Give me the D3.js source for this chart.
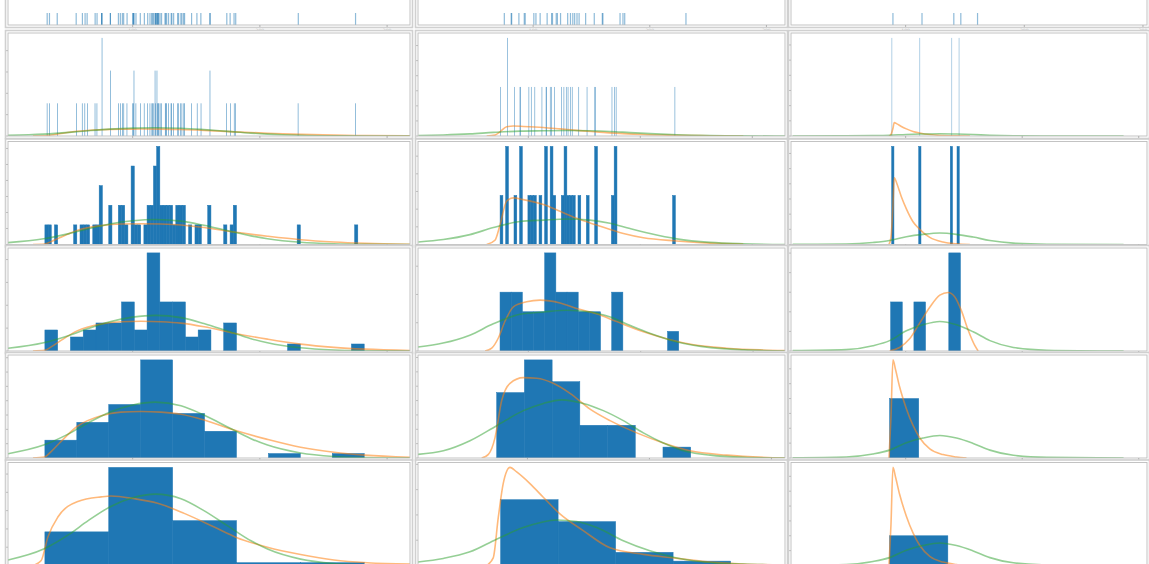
<!DOCTYPE html>
<html>
<head>
<meta charset="utf-8">
<script src="https://cdn.jsdelivr.net/npm/d3@7"></script>
<style>
  body { margin: 0; background: #fff; }
  svg { display: block; font-family: "DejaVu Sans", sans-serif; }
</style>
</head>
<body>
<div id="chart"></div>
<script>
// ---- data ----
// sample values per column (rug + fine histograms)
const samplesA = [32.8, 34.6, 40.7, 55.6, 60.5, 62.6, 64.2, 70.5, 72.0, 75.7, 75.7, 75.7, 82.5, 82.5,
  88.8, 90.3, 91.9, 92.9, 95.6, 100.0, 100.5, 100.8, 101.0, 102.6, 106.0, 109.2, 111.8, 113.6, 114.9,
  115.7, 116.5, 117.8, 117.8, 118.3, 119.1, 119.1, 119.6, 120.1, 120.4, 121.5, 122.7, 125.4, 125.9,
  126.7, 128.2, 130.3, 130.8, 132.2, 135.3, 136.1, 137.9, 138.7, 140.0, 140.8, 146.3, 150.5, 153.6,
  160.7, 160.9, 174.0, 176.6, 179.7, 181.0, 230.2, 275.2];
const samplesB = [75.3, 81.2, 81.6, 87.8, 92.4, 93.2, 100.6, 102.4, 106.0, 112.0, 115.8, 116.6, 119.8,
  120.8, 123.5, 129.6, 132.0, 134.0, 135.6, 137.6, 139.4, 145.0, 152.4, 159.3, 159.8, 174.5, 177.0,
  178.5, 231.0];
const samplesC = [88, 112, 139.5, 146];
const rugC = [89.3, 113.8, 140.6, 146.5, 160.6];

// histogram ranges and bin counts for the two finest rows
const binRangeA = [31, 282];
const binRangeB = [74.8, 233.8];
const binRangeC = [88, 146];
const fineBinsA = [500, 100];
const fineBinsB = [300, 64];
const fineBinsC = [150, 30];

// coarse histograms (rows 3-5): counts per bin and bin range
const countsA = [
  [3, 0, 2, 3, 4, 4, 7, 3, 14, 7, 7, 2, 3, 0, 4, 0, 0, 0, 0, 1, 0, 0, 0, 0, 1],
  [4, 8, 12, 22, 10, 6, 0, 1, 0, 1],
  [12, 35, 16, 1, 1]
];
const countsB = [
  [3, 3, 2, 2, 5, 3, 3, 2, 2, 0, 3, 0, 0, 0, 0, 1],
  [6, 9, 7, 3, 3, 0, 1],
  [15, 10, 3, 1]
];
const countsC = [[1, 0, 1, 0, 0, 2], [4], [4]];
const coarseRangeA = [binRangeA, binRangeA, binRangeA];
const coarseRangeB = [binRangeB, binRangeB, binRangeB];
const coarseRangeC = [[87.1, 147], [86.2, 111.2], [86.2, 136.2]];

// x limits per row (row 0 = rug)
const xDomainA = [[2, 318], [2, 318], [2, 318], [2, 318], [2, 318], [2, 318]];
const xDomainB = [[1.3, 315.9], [1.5, 329.2], [1.5, 329.2], [1.8, 328.4], [10.3, 311.1], [17.7, 271.4]];
const xDomainC = [[3.4, 303.4], [1.6, 307.1], [1.6, 307.1], [1.6, 307.1], [1.6, 307.1], [1.6, 307.1]];
const xTicks = [100, 200, 300];

// fitted curves, density units [x, density]
const greenA = [[2, 0.0006], [30, 0.0018], [50, 0.0034], [65, 0.0049], [82, 0.0064], [100, 0.0074],
  [118, 0.0078], [138, 0.0073], [156, 0.0060], [175, 0.0043], [193, 0.0027], [206, 0.0018],
  [232, 0.0007], [258, 0.00022], [283, 0.00006], [318, 0]];
const orangeA = [[21.6, 0], [30.7, 0.00014], [35.9, 0.0009], [42.5, 0.0021], [56.3, 0.0044],
  [75.2, 0.0059], [90.8, 0.0064], [106.5, 0.0065], [122.2, 0.0064], [137.9, 0.0061], [156.2, 0.0053],
  [179.7, 0.0039], [205.9, 0.0026], [232, 0.0015], [258.2, 0.0008], [282.5, 0.0004], [318, 0.0001]];
const orangeA5 = [[21.6, 0], [28.1, 0.00055], [33.3, 0.0031], [41.2, 0.0053], [56.9, 0.0070],
  [75.2, 0.0075], [83, 0.0076], [101.3, 0.0073], [119.6, 0.0068], [140.5, 0.0057], [164.1, 0.0042],
  [181, 0.0031], [205.9, 0.0020], [232, 0.0012], [258.2, 0.0006], [284.3, 0.0003], [318, 0.00015]];

const greenB = [[1.8, 0.0007], [24.1, 0.0014], [47.9, 0.0028], [68.8, 0.0048], [92.6, 0.0065],
  [113.4, 0.0069], [134.2, 0.0072], [155.1, 0.0069], [172.9, 0.0060], [190.8, 0.0045], [208.7, 0.0031],
  [232.5, 0.0016], [262.3, 0.0006], [292, 0.0002], [329.2, 0]];
const greenB4 = [[10.3, 0.0005], [31.1, 0.0010], [52.9, 0.0024], [74.8, 0.0045], [96.7, 0.0066],
  [113.1, 0.0076], [128.1, 0.0081], [145.8, 0.0076], [162.2, 0.0066], [178.6, 0.0052], [195, 0.0035],
  [211.4, 0.0021], [230.5, 0.0009], [249.7, 0.0004], [277, 0.0001], [311.1, 0]];
const greenB5 = [[17.7, 0.0007], [35.2, 0.0014], [53.6, 0.0027], [72, 0.0052], [90.5, 0.0075],
  [113.5, 0.0090], [127.3, 0.0087], [141.2, 0.0075], [159.6, 0.0049], [178, 0.0029], [196.5, 0.0015],
  [219.5, 0.0006], [242.5, 0.0003], [271.4, 0.0001]];
const orangeB = [[62.8, 0], [70.2, 0.0012], [74.7, 0.0055], [80.7, 0.0123], [86.6, 0.0132],
  [95.5, 0.0127], [113.4, 0.0113], [128.3, 0.0094], [143.2, 0.0074], [161, 0.0055], [184.9, 0.0031],
  [202.7, 0.0019], [232.5, 0.0010], [262.3, 0.0004], [292, 0.0001]];
const orangeB3 = [[61.5, 0], [67.4, 0.0005], [73.3, 0.0023], [79.3, 0.0053], [86.7, 0.0078],
  [98.5, 0.0087], [110.4, 0.0090], [128.2, 0.0085], [143, 0.0075], [160.8, 0.0066], [178.6, 0.0052],
  [202.4, 0.0034], [226.1, 0.0020], [246.9, 0.0011], [276.5, 0.0005], [306.2, 0.0002], [328.4, 0.0001]];
const orangeB4 = [[62.5, 0], [68, 0.0005], [73.4, 0.0028], [78.9, 0.0080], [85.7, 0.0104],
  [96.7, 0.0112], [107.6, 0.0111], [121.2, 0.0104], [134.9, 0.0090], [151.3, 0.0068], [167.7, 0.0052],
  [189.6, 0.0035], [211.4, 0.0021], [233.3, 0.0010], [263.3, 0.0004], [311.1, 0]];
const orangeB5 = [[65.1, 0], [69.7, 0.0015], [73.2, 0.0095], [76.6, 0.0162], [81.3, 0.0194],
  [85.9, 0.0185], [95.1, 0.0162], [104.3, 0.0135], [115.8, 0.0102], [131.9, 0.0069], [150.4, 0.0035],
  [173.4, 0.0022], [194.2, 0.0015], [219.5, 0.0007], [242.5, 0.0003], [271.4, 0.0001]];

const greenC = [[3, 0.0002], [48.9, 0.0007], [71.9, 0.0027], [86.2, 0.0053], [100.6, 0.0103],
  [114.9, 0.0134], [129.3, 0.0151], [143.6, 0.0134], [157.9, 0.0098], [172.3, 0.0053], [192.4, 0.0018],
  [221.1, 0.0004], [287, 0]];
const orangeC = [[85.7, 0], [87.4, 0.0094], [89.1, 0.0515], [90.2, 0.088], [92.5, 0.080], [96.3, 0.063],
  [100.6, 0.047], [106.3, 0.030], [112, 0.020], [120.7, 0.0094], [132.1, 0.0033], [143.6, 0.0009],
  [155.1, 0]];
const orangeC3 = [[86.2, 0], [94.8, 0.0018], [103.4, 0.0062], [112, 0.0142], [120.7, 0.0223],
  [129.3, 0.0285], [136.4, 0.0299], [142.2, 0.0276], [147.9, 0.0205], [153.6, 0.0107], [159.4, 0.0027],
  [162.2, 0]];
const orangeC4 = [[85.7, 0], [87.4, 0.0276], [89.1, 0.066], [91.4, 0.0592], [94.8, 0.0479],
  [100.6, 0.0332], [106.3, 0.0219], [112, 0.0136], [120.7, 0.0061], [132.1, 0.0023], [143.6, 0.0007],
  [152.2, 0]];

// ---- layout ----
const W = 1149, H = 564;
const colLeft = [8, 418, 791];
const colRight = [410, 785, 1147];
const rowTop = [-78, 33, 141.5, 248, 355, 462.5];
const rowH = 103;

const columns = [
  { samples: samplesA, rug: samplesA, binRange: binRangeA, fine: fineBinsA, counts: countsA,
    coarseRange: coarseRangeA, domains: xDomainA,
    green: [greenA, greenA, greenA, greenA, greenA],
    orange: [orangeA, orangeA, orangeA, orangeA, orangeA5] },
  { samples: samplesB, rug: samplesB, binRange: binRangeB, fine: fineBinsB, counts: countsB,
    coarseRange: coarseRangeB, domains: xDomainB,
    green: [greenB, greenB, greenB, greenB4, greenB5],
    orange: [orangeB, orangeB, orangeB3, orangeB4, orangeB5] },
  { samples: samplesC, rug: rugC, binRange: binRangeC, fine: fineBinsC, counts: countsC,
    coarseRange: coarseRangeC, domains: xDomainC,
    green: [greenC, greenC, greenC, greenC, greenC],
    orange: [orangeC, orangeC, orangeC3, orangeC4, orangeC4] }
];

const blue = '#1f77b4';
const svg = d3.select('#chart').append('svg')
  .attr('width', W)
  .attr('height', H);

const line = d3.line().curve(d3.curveMonotoneX);

function edges(range, n) {
  return d3.range(1, n).map(i => range[0] + i * (range[1] - range[0]) / n);
}

rowTop.forEach((top, r) => {
  columns.forEach((col, c) => {
    const left = colLeft[c], right = colRight[c];
    const bottom = top + rowH;
    const g = svg.append('g');

    // panel frame
    g.append('rect')
      .attr('x', left - 2.5).attr('y', top - 2.5)
      .attr('width', right - left + 5).attr('height', rowH + 5)
      .attr('fill', '#fff')
      .attr('stroke', '#d0d0d0')
      .attr('stroke-width', 1.6);

    const x = d3.scaleLinear().domain(col.domains[r]).range([left, right]);
    const clipId = `clip-${r}-${c}`;
    g.append('clipPath').attr('id', clipId)
      .append('rect')
      .attr('x', left).attr('y', top)
      .attr('width', right - left).attr('height', rowH);
    const plot = g.append('g').attr('clip-path', `url(#${clipId})`);

    let yTicks = [];
    if (r === 0) {
      plot.selectAll('line.rug')
        .data(col.rug)
        .enter().append('line')
        .attr('class', 'rug')
        .attr('x1', d => x(d)).attr('x2', d => x(d))
        .attr('y1', bottom).attr('y2', bottom - 12)
        .attr('stroke', blue)
        .attr('stroke-opacity', 0.5)
        .attr('stroke-width', 1.2);
    } else {
      let bars;
      if (r <= 2) {
        const n = col.fine[r - 1];
        const w = (col.binRange[1] - col.binRange[0]) / n;
        const bins = d3.bin()
          .domain(col.binRange)
          .thresholds(edges(col.binRange, n))(col.samples);
        const N = col.samples.length;
        bars = bins.map(b => ({ x0: b.x0, x1: b.x1, v: b.length / (N * w) }));
      } else {
        const counts = col.counts[r - 3];
        const range = col.coarseRange[r - 3];
        const w = (range[1] - range[0]) / counts.length;
        const N = d3.sum(counts);
        bars = counts.map((k, i) => ({ x0: range[0] + i * w, x1: range[0] + (i + 1) * w, v: k / (N * w) }));
      }
      bars = bars.filter(b => b.v > 0);

      const green = col.green[r - 1];
      const orange = col.orange[r - 1];
      const ymax = 1.05 * Math.max(
        d3.max(bars, b => b.v),
        d3.max(green, d => d[1]),
        d3.max(orange, d => d[1])
      );
      const y = d3.scaleLinear().domain([0, ymax]).range([bottom, top]);
      yTicks = y.ticks(5).map(t => y(t));

      plot.selectAll('rect.bar')
        .data(bars)
        .enter().append('rect')
        .attr('class', 'bar')
        .attr('x', b => x(b.x0))
        .attr('width', b => Math.max(0, x(b.x1) - x(b.x0)))
        .attr('y', b => y(b.v))
        .attr('height', b => bottom - y(b.v))
        .attr('fill', blue)
        .attr('fill-opacity', r === 1 ? 0.75 : 1)
        .attr('stroke', r === 1 ? 'none' : blue)
        .attr('stroke-width', 0.5);

      line.x(d => x(d[0])).y(d => y(d[1]));
      plot.append('path')
        .attr('d', line(orange))
        .attr('fill', 'none')
        .attr('stroke', '#ff7f0e')
        .attr('stroke-opacity', 0.55)
        .attr('stroke-width', 1.6);
      plot.append('path')
        .attr('d', line(green))
        .attr('fill', 'none')
        .attr('stroke', '#2ca02c')
        .attr('stroke-opacity', 0.5)
        .attr('stroke-width', 1.6);
    }

    // spines
    g.append('rect')
      .attr('x', left).attr('y', top)
      .attr('width', right - left).attr('height', rowH)
      .attr('fill', 'none')
      .attr('stroke', '#bdbdbd')
      .attr('stroke-width', 0.9);

    // ticks
    g.selectAll('line.xt')
      .data(xTicks.filter(t => t >= col.domains[r][0] && t <= col.domains[r][1]))
      .enter().append('line')
      .attr('x1', d => x(d)).attr('x2', d => x(d))
      .attr('y1', bottom).attr('y2', bottom + 2)
      .attr('stroke', '#999').attr('stroke-width', 0.7);
    g.selectAll('line.yt')
      .data(yTicks)
      .enter().append('line')
      .attr('x1', left - 2).attr('x2', left)
      .attr('y1', d => d).attr('y2', d => d)
      .attr('stroke', '#aaa').attr('stroke-width', 0.7);

    if (r === 0) {
      g.selectAll('text.xl')
        .data(xTicks.filter(t => t >= col.domains[r][0] && t <= col.domains[r][1]))
        .enter().append('text')
        .attr('x', d => x(d))
        .attr('y', bottom + 6.5)
        .attr('text-anchor', 'middle')
        .attr('font-size', 4.5)
        .attr('fill', '#b5b5b5')
        .text(d => d);
    }
  });
});
</script>
</body>
</html>
